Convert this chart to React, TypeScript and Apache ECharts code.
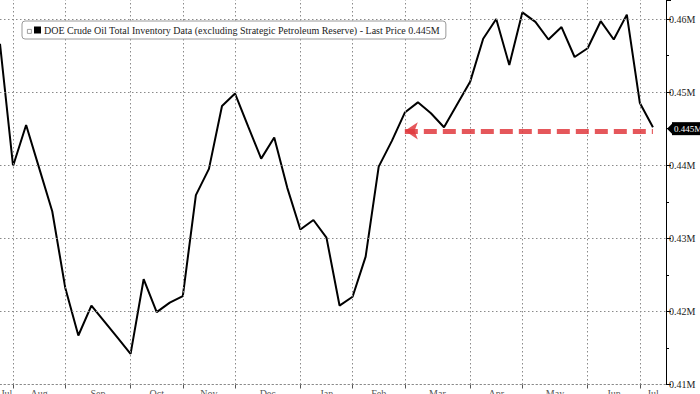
import React, { useEffect, useRef } from "react";
import * as echarts from "echarts";

const seriesName =
  "DOE Crude Oil Total Inventory Data (excluding Strategic Petroleum Reserve) - Last Price 0.445M";

const weeks = [
  "2023-07-28", "2023-08-04", "2023-08-11", "2023-08-18", "2023-08-25",
  "2023-09-01", "2023-09-08", "2023-09-15", "2023-09-22", "2023-09-29",
  "2023-10-06", "2023-10-13", "2023-10-20", "2023-10-27",
  "2023-11-03", "2023-11-10", "2023-11-17", "2023-11-24",
  "2023-12-01", "2023-12-08", "2023-12-15", "2023-12-22", "2023-12-29",
  "2024-01-05", "2024-01-12", "2024-01-19", "2024-01-26",
  "2024-02-02", "2024-02-09", "2024-02-16", "2024-02-23",
  "2024-03-01", "2024-03-08", "2024-03-15", "2024-03-22", "2024-03-29",
  "2024-04-05", "2024-04-12", "2024-04-19", "2024-04-26",
  "2024-05-03", "2024-05-10", "2024-05-17", "2024-05-24", "2024-05-31",
  "2024-06-07", "2024-06-14", "2024-06-21", "2024-06-28",
  "2024-07-05", "2024-07-12", "2024-07-19",
];

const inventory = [
  0.4566, 0.4399, 0.4455, 0.4396, 0.4337, 0.4232, 0.4167, 0.4208, 0.4186, 0.4164,
  0.4142, 0.4244, 0.4199, 0.4212, 0.4221, 0.4359, 0.4395, 0.4481, 0.4498, 0.4453,
  0.4409, 0.4438, 0.4369, 0.4312, 0.4325, 0.4301, 0.4208, 0.4220, 0.4275, 0.4398,
  0.4433, 0.4472, 0.4486, 0.4471, 0.4452, 0.4483, 0.4514, 0.4573, 0.4600, 0.4537,
  0.4609, 0.4596, 0.4572, 0.4589, 0.4548, 0.4560, 0.4597, 0.4572, 0.4606, 0.4485,
  0.4452,
];

const monthNames = ["Jul", "Aug", "Sep", "Oct", "Nov", "Dec", "Jan", "Feb", "Mar", "Apr", "May", "Jun", "Jul"];
const yRange = [0.41, 0.4626, 0.01];
const yGridValues = [0.42, 0.43, 0.44, 0.45, 0.46];
const lastPrice = 0.445;
const arrowLevel = 0.4447;
const arrowFrom = 31;
const arrowTo = 50;

export default function App() {
  const ref = useRef<HTMLDivElement>(null);
  useEffect(() => {
    if (!ref.current) return;
    const chart = echarts.init(ref.current, undefined, { renderer: "svg" });

    const monthStarts: number[] = [];
    for (let i = 1; i < weeks.length; i++) {
      if (weeks[i].slice(5, 7) !== weeks[i - 1].slice(5, 7)) monthStarts.push(i);
    }
    const bounds = [0, ...monthStarts, weeks.length - 1];
    const labelMap = new Map<number, { text: string; shift: number }>();
    for (let k = 0; k < bounds.length - 1 && k < monthNames.length; k++) {
      const mid = (bounds[k] + bounds[k + 1]) / 2;
      const idx = Math.floor(mid);
      labelMap.set(idx, { text: monthNames[k], shift: mid - idx });
    }
    const startSet = new Set(monthStarts);
    const dotted = { color: "#8a8a8a", type: [1.5, 2.5], width: 1 };

    const gridLines: any[] = [
      ...monthStarts.map((i) => ({ xAxis: weeks[i], lineStyle: dotted, label: { show: false } })),
      ...yGridValues.map((v) => ({ yAxis: v, lineStyle: dotted, label: { show: false } })),
    ];

    const option: any = {
      animation: false,
      backgroundColor: "#fff",
      textStyle: { fontFamily: "Liberation Sans Narrow" },
      grid: { left: 0, right: 34, top: 0, bottom: 9.5, outerBoundsMode: "none", containLabel: false },
      legend: {
        left: 22,
        top: 21,
        selectedMode: false,
        backgroundColor: "#fff",
        borderColor: "#9a9a9a",
        borderWidth: 1,
        borderRadius: 3,
        padding: [4, 6, 4, 12],
        itemWidth: 7,
        itemHeight: 7,
        itemGap: 4,
        z: 10,
        data: [{ name: seriesName, icon: "rect", itemStyle: { color: "#000" } }],
        textStyle: { fontFamily: "Liberation Sans Narrow", fontSize: 10, color: "#222", padding: [1, 0, 0, -2] },
      },
      graphic: [
        {
          type: "rect",
          left: 27,
          top: 29,
          shape: { width: 4, height: 4 },
          style: { fill: "#fff", stroke: "#888", lineWidth: 0.8 },
          z: 100,
        },
      ],
      xAxis: {
        type: "category",
        boundaryGap: false,
        data: weeks,
        axisLine: { show: true, lineStyle: dotted },
        axisTick: {
          show: true,
          length: 4,
          interval: (i: number) => startSet.has(i),
          lineStyle: { color: "#555", width: 1 },
        },
        splitLine: { show: false },
        axisLabel: {
          interval: (i: number) => labelMap.has(i),
          margin: 4,
          fontSize: 10,
          color: "#555",
          formatter: (_v: string, i: number) => {
            const l = labelMap.get(i);
            if (!l) return "";
            if (l.shift > 0) return "{h|" + l.text + "}";
            return l.text;
          },
          rich: { h: { padding: [0, 0, 0, 13], fontSize: 10, color: "#555" } },
        },
      },
      yAxis: {
        type: "value",
        position: "right",
        min: yRange[0],
        max: yRange[1],
        interval: yRange[2],
        axisLine: { show: true, lineStyle: { color: "#000", width: 1 } },
        axisTick: { show: true, length: 5, lineStyle: { color: "#000" } },
        minorTick: { show: true, splitNumber: 2, length: 3, lineStyle: { color: "#000" } },
        splitLine: { show: false },
        axisLabel: {
          margin: 3,
          fontSize: 10,
          color: "#222",
          showMaxLabel: false,
          formatter: (v: number) => v.toFixed(2) + "M",
        },
      },
      series: [
        {
          type: "line",
          name: "grid",
          data: [],
          silent: true,
          z: 1,
          markLine: {
            silent: true,
            symbol: "none",
            precision: 4,
            label: { show: false },
            data: gridLines,
          },
        },
        {
          type: "line",
          name: seriesName,
          data: inventory,
          symbol: "none",
          clip: false,
          lineStyle: { color: "#000", width: 2 },
          itemStyle: { color: "#000" },
          z: 3,
          markLine: {
            silent: true,
            symbol: "none",
            precision: 4,
            data: [
              {
                yAxis: lastPrice,
                lineStyle: { color: "rgba(0,0,0,0)", width: 0 },
                label: {
                  show: true,
                  position: "end",
                  distance: 6,
                  formatter: "0.445M",
                  color: "#fff",
                  backgroundColor: "#000",
                  fontSize: 9,
                  padding: [2, 1, 2, 2],
                },
              },
              [
                {
                  coord: [arrowFrom, arrowLevel],
                  symbol: "arrow",
                  symbolSize: 13,
                  lineStyle: { color: "#e0393e", width: 5, type: [13, 6], opacity: 0.85 },
                  label: { show: false },
                },
                { coord: [arrowTo, arrowLevel], symbol: "none" },
              ],
            ],
          },
          markPoint: {
            silent: true,
            data: [
              {
                coord: [weeks.length - 1, lastPrice],
                symbol: "triangle",
                symbolSize: [12, 6],
                symbolRotate: 90,
                symbolOffset: [4, 0],
                itemStyle: { color: "#000" },
                label: { show: false },
              },
            ],
          },
        },
      ],
    };
    chart.setOption(option);
    return () => chart.dispose();
  }, []);
  return <div ref={ref} style={{ position: "absolute", left: 0, top: 0, width: 700, height: 394 }} />;
}
